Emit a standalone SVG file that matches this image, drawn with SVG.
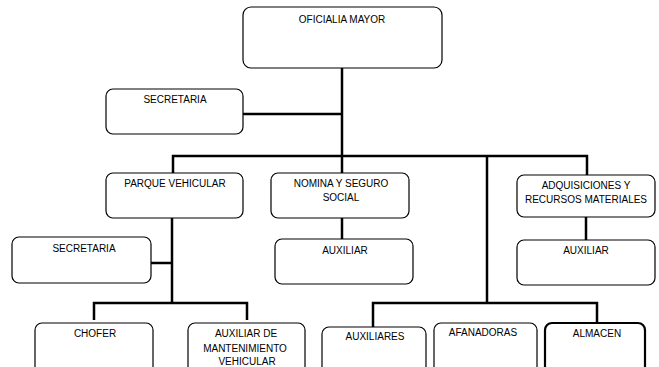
<svg xmlns="http://www.w3.org/2000/svg" width="659" height="367" viewBox="0 0 659 367">
<style>
.box{fill:#fff;stroke:#000;stroke-width:1.2}
.thick{stroke-width:2.2}
.ln{fill:none;stroke:#000;stroke-width:2.5;stroke-linecap:butt;stroke-linejoin:miter}
text{font-family:"Liberation Sans",Arial,sans-serif;font-size:10px;fill:#000;text-anchor:middle}
</style>
<rect width="659" height="367" fill="#fff"/>
<g id="connectors">
<path class="ln" d="M342 68V173"/>
<path class="ln" d="M243 114H342"/>
<path class="ln" d="M173 173V156H587V175"/>
<path class="ln" d="M487 156V303"/>
<path class="ln" d="M342 218V239"/>
<path class="ln" d="M586 217V240"/>
<path class="ln" d="M172 218V303"/>
<path class="ln" d="M151 263H172"/>
<path class="ln" d="M94 320V303H247V320"/>
<path class="ln" d="M373 327V303H597V323"/>
</g>
<g id="oficialia">
<rect class="box" x="243" y="7" width="199" height="61" rx="8"/>
<text x="342" y="23">OFICIALIA MAYOR</text>
</g>
<g id="secretaria1">
<rect class="box" x="106" y="89" width="137" height="45" rx="7"/>
<text x="175" y="103">SECRETARIA</text>
</g>
<g id="parque">
<rect class="box" x="106" y="173" width="137" height="45" rx="7"/>
<text x="175" y="186.5">PARQUE VEHICULAR</text>
</g>
<g id="nomina">
<rect class="box" x="271" y="173" width="138" height="45" rx="7"/>
<text x="341" y="186.5">NOMINA Y SEGURO</text>
<text x="341" y="201">SOCIAL</text>
</g>
<g id="auxiliar-nomina">
<rect class="box" x="275" y="239" width="138" height="45" rx="7"/>
<text x="345" y="253.5">AUXILIAR</text>
</g>
<g id="adquisiciones">
<rect class="box" x="517" y="175" width="138" height="42" rx="7"/>
<text x="586" y="188.5">ADQUISICIONES Y</text>
<text x="586" y="203">RECURSOS MATERIALES</text>
</g>
<g id="auxiliar-adq">
<rect class="box" x="517" y="240" width="138" height="45" rx="7"/>
<text x="586" y="253.5">AUXILIAR</text>
</g>
<g id="secretaria2">
<rect class="box" x="12" y="237" width="139" height="46" rx="7"/>
<text x="84" y="251.5">SECRETARIA</text>
</g>
<g id="chofer">
<rect class="box" x="35" y="323" width="118" height="60" rx="7"/>
<text x="95" y="336.5">CHOFER</text>
</g>
<g id="auxiliar-mant">
<rect class="box" x="188" y="323" width="117" height="60" rx="7"/>
<text x="246" y="337">AUXILIAR DE</text>
<text x="245" y="351.5">MANTENIMIENTO</text>
<text x="247" y="365">VEHICULAR</text>
</g>
<g id="auxiliares">
<rect class="box" x="322" y="327" width="104" height="60" rx="7"/>
<text x="375" y="339.5">AUXILIARES</text>
</g>
<g id="afanadoras">
<rect class="box" x="434" y="323" width="103" height="60" rx="7"/>
<text x="483" y="336">AFANADORAS</text>
</g>
<g id="almacen">
<rect class="box thick" x="545" y="323" width="100" height="60" rx="7"/>
<text x="597" y="336.5">ALMACEN</text>
</g>
</svg>
